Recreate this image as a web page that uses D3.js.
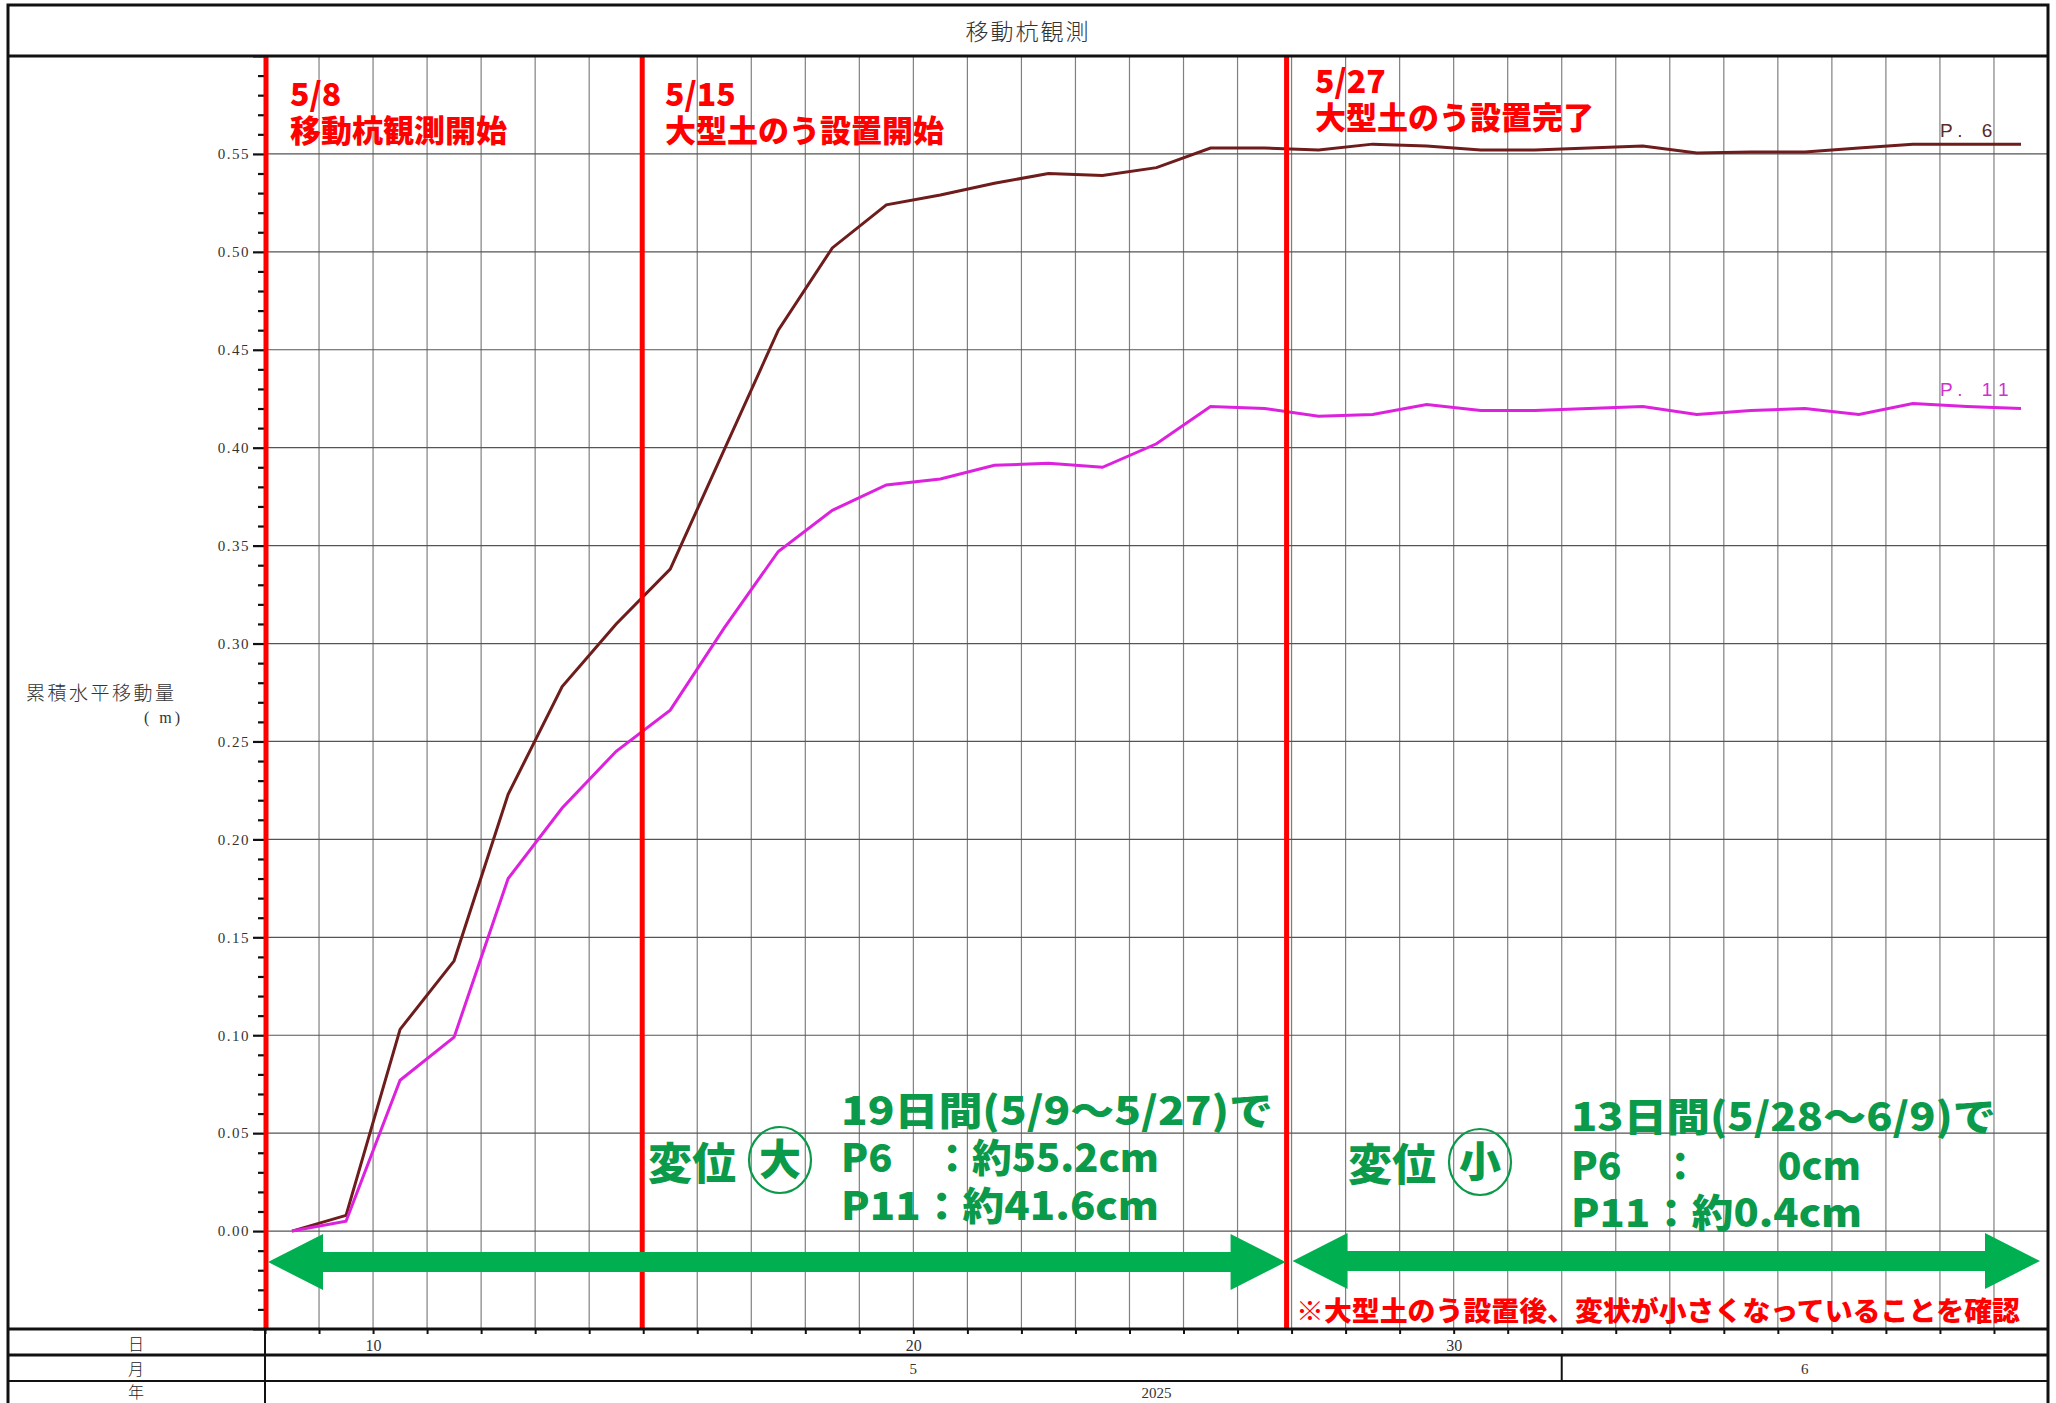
<!DOCTYPE html>
<html><head><meta charset="utf-8">
<script src="https://cdn.jsdelivr.net/npm/d3@7"></script>
<style>body{margin:0;background:#fff}svg{display:block}</style>
</head><body>
<svg id="c" width="2056" height="1403"></svg>
<script>
// ---- data ----
const dates = ["2025-05-08 12:00","2025-05-09 12:00","2025-05-10 12:00","2025-05-11 12:00","2025-05-12 12:00",
"2025-05-13 12:00","2025-05-14 12:00","2025-05-15 12:00","2025-05-16 12:00","2025-05-17 12:00","2025-05-18 12:00",
"2025-05-19 12:00","2025-05-20 12:00","2025-05-21 12:00","2025-05-22 12:00","2025-05-23 12:00","2025-05-24 12:00",
"2025-05-25 12:00","2025-05-26 12:00","2025-05-27 12:00","2025-05-28 12:00","2025-05-29 12:00","2025-05-30 12:00",
"2025-05-31 12:00","2025-06-01 12:00","2025-06-02 12:00","2025-06-03 12:00","2025-06-04 12:00","2025-06-05 12:00",
"2025-06-06 12:00","2025-06-07 12:00","2025-06-08 12:00","2025-06-09 12:00"];
const p6 = [0.000,0.008,0.103,0.138,0.223,0.278,0.310,0.338,0.399,0.460,0.502,
0.524,0.529,0.535,0.540,0.539,0.543,0.553,0.553,0.552,0.555,0.554,0.552,
0.552,0.553,0.554,0.5505,0.551,0.551,0.553,0.555,0.555,0.555];
const p11 = [0.000,0.005,0.077,0.099,0.180,0.216,0.245,0.266,0.308,0.347,0.368,
0.381,0.384,0.391,0.392,0.390,0.402,0.421,0.420,0.416,0.417,0.422,0.419,
0.419,0.420,0.421,0.417,0.419,0.420,0.417,0.4225,0.421,0.420];
const seriesNames = ["P. 6","P. 11"];
const yMajorTicks = [0,0.05,0.10,0.15,0.20,0.25,0.30,0.35,0.40,0.45,0.50,0.55];
const dayLabelDates = ["2025-05-10","2025-05-20","2025-05-30"];
const dayLabels = ["10","20","30"];
const monthStarts = ["2025-05-08","2025-06-01","2025-06-10"];
const monthLabels = ["5","6"];
const yearLabel = "2025";
const eventDates = ["2025-05-08","2025-05-15","2025-05-27"];
const eventDateTexts = ["5/8","5/15","5/27"];
const eventTexts = ["移動杭観測開始","大型土のう設置開始","大型土のう設置完了"];
const periodHeads = ["19日間(5/9～5/27)で","13日間(5/28～6/9)で"];
const periodP6 = ["P6　：約55.2cm","P6　：　　0cm"];
const periodP11 = ["P11：約41.6cm","P11：約0.4cm"];
const periodMark = ["大","小"];

// ---- layout ----
const L=265, R=2048, T=56, B=1329;
const svg = d3.select("#c");
const pd = d3.timeParse("%Y-%m-%d %H:%M");
const pday = d3.timeParse("%Y-%m-%d");
const x = d3.scaleTime().domain([pday("2025-05-08"), pday("2025-06-10")]).range([L,R]);
const y = d3.scaleLinear().domain([-0.05,0.6]).range([B,T]);
const serif = "'Liberation Serif','DejaVu Serif',serif";
const jp = "'Noto Sans CJK JP','Noto Sans',sans-serif";

// grid
const days = d3.timeDay.range(pday("2025-05-09"), pday("2025-06-10"));
svg.append("g").selectAll("line").data(days).join("line")
  .attr("x1",d=>x(d)).attr("x2",d=>x(d)).attr("y1",T).attr("y2",B)
  .attr("stroke","#808080").attr("stroke-width",1.2);
svg.append("g").selectAll("line").data(yMajorTicks).join("line")
  .attr("x1",L).attr("x2",R).attr("y1",d=>y(d)).attr("y2",d=>y(d))
  .attr("stroke","#555").attr("stroke-width",1.2);

// y axis minor + major
const minor = d3.range(-4,60).map(i=>i/100).filter(v=>Math.round(v*100)%5!==0);
const gMinor = svg.append("g").attr("transform",`translate(${L},0)`)
  .call(d3.axisLeft(y).tickValues(minor).tickSize(7).tickFormat(""));
gMinor.select(".domain").remove();
gMinor.selectAll("line").attr("stroke","#111").attr("stroke-width",2.2);
const gY = svg.append("g").attr("transform",`translate(${L},0)`)
  .call(d3.axisLeft(y).tickValues(yMajorTicks).tickSize(12).tickPadding(3).tickFormat(d3.format(".2f")));
gY.select(".domain").attr("stroke","#111").attr("stroke-width",2);
gY.selectAll("line").attr("stroke","#111").attr("stroke-width",2.2);
gY.selectAll("text").attr("font-family",serif).attr("font-size",15).attr("fill","#333").attr("letter-spacing",1.5);

// x axis
const labelMap = new Map(dayLabelDates.map((d,i)=>[+pday(d),dayLabels[i]]));
const gX = svg.append("g").attr("transform",`translate(0,${B})`)
  .call(d3.axisBottom(x).tickValues(d3.timeDay.range(pday("2025-05-08"), pday("2025-06-10"))).tickSize(5).tickPadding(6)
  .tickFormat(d=>labelMap.get(+d)||""));
gX.select(".domain").remove();
gX.selectAll("line").attr("stroke","#111").attr("stroke-width",2);
gX.selectAll("text").attr("font-family",serif).attr("font-size",16).attr("fill","#333");

// series lines
const line = d3.line().x((d,i)=>x(pd(dates[i]))).y(d=>y(d));
svg.append("path").datum(p6).attr("d",line).attr("fill","none").attr("stroke","#6e1c1c").attr("stroke-width",3);
svg.append("path").datum(p11).attr("d",line).attr("fill","none").attr("stroke","#dd22dd").attr("stroke-width",3);
svg.append("text").attr("x",1940).attr("y",137).text(seriesNames[0])
  .attr("font-family","'Liberation Sans',Arial,sans-serif").attr("font-size",19).attr("letter-spacing",7).attr("fill","#5a2a2a");
svg.append("text").attr("x",1940).attr("y",396).text(seriesNames[1])
  .attr("font-family","'Liberation Sans',Arial,sans-serif").attr("font-size",19).attr("letter-spacing",7).attr("fill","#d030d0");

// event lines (small pixel nudges to match the hand-placed lines)
const eventNudge = [1,-1,-5];
svg.append("g").selectAll("line").data(eventDates).join("line")
  .attr("x1",(d,i)=>x(pday(d))+eventNudge[i]).attr("x2",(d,i)=>x(pday(d))+eventNudge[i]).attr("y1",T).attr("y2",B)
  .attr("stroke","#ff0000").attr("stroke-width",5);
const evY = [[106,142],[106,142],[93,129]];
const evX = [290,665,1315];
eventDates.forEach((d,i)=>{
  svg.append("text").attr("x",evX[i]).attr("y",evY[i][0]).text(eventDateTexts[i])
    .attr("font-family",jp).attr("font-weight",900).attr("font-size",32).attr("fill","#ff0000");
  svg.append("text").attr("x",evX[i]).attr("y",evY[i][1]).text(eventTexts[i])
    .attr("font-family",jp).attr("font-weight",900).attr("font-size",31).attr("fill","#ff0000");
});

// green arrows
function dblArrow(x1,x2,cy){
  const h=55, hw=28, sw=10;
  return `M${x1},${cy} L${x1+h},${cy-hw} L${x1+h},${cy-sw} L${x2-h},${cy-sw} L${x2-h},${cy-hw} L${x2},${cy} L${x2-h},${cy+hw} L${x2-h},${cy+sw} L${x1+h},${cy+sw} L${x1+h},${cy+hw} Z`;
}
svg.append("path").attr("d",dblArrow(x(pday(eventDates[0]))+3, x(pday(eventDates[2]))-6, 1262)).attr("fill","#00b050");
svg.append("path").attr("d",dblArrow(x(pday(eventDates[2]))+1, R-8, 1261)).attr("fill","#00b050");

// green annotations
const green = "#0a9a4a";
const blocks = [
  {tx:841, base:[1125,1172,1220], w:[432,318,318], vx:648, vy:1180, cx:780, cy:1160},
  {tx:1571, base:[1131,1180,1227], w:[425,290,291], vx:1348, vy:1181, cx:1480, cy:1162}
];
blocks.forEach((b,i)=>{
  [periodHeads[i],periodP6[i],periodP11[i]].forEach((t,j)=>{
    svg.append("text").attr("x",b.tx).attr("y",b.base[j]).text(t)
      .attr("font-family",jp).attr("font-weight",900).attr("font-size",39).attr("fill",green)
      .attr("textLength",b.w[j]).attr("lengthAdjust","spacingAndGlyphs");
  });
  svg.append("text").attr("x",b.vx).attr("y",b.vy).text("変位")
    .attr("font-family",jp).attr("font-weight",900).attr("font-size",44).attr("fill",green);
  svg.append("ellipse").attr("cx",b.cx).attr("cy",b.cy).attr("rx",31).attr("ry",33)
    .attr("fill","none").attr("stroke",green).attr("stroke-width",2.2);
  svg.append("text").attr("x",b.cx).attr("y",b.cy+15).attr("text-anchor","middle").text(periodMark[i])
    .attr("font-family",jp).attr("font-weight",900).attr("font-size",42).attr("fill",green);
});
svg.append("text").attr("x",1296).attr("y",1321).text("※大型土のう設置後、変状が小さくなっていることを確認")
  .attr("font-family",jp).attr("font-weight",900).attr("font-size",27).attr("fill","#ff0000")
  .attr("textLength",724).attr("lengthAdjust","spacingAndGlyphs");

// frame and table
const fr = svg.append("g").attr("stroke","#111").attr("fill","none");
fr.append("rect").attr("x",8).attr("y",5).attr("width",R-8).attr("height",1420).attr("stroke-width",3);
fr.append("line").attr("x1",8).attr("x2",R).attr("y1",T).attr("y2",T).attr("stroke-width",3);
fr.append("line").attr("x1",8).attr("x2",R).attr("y1",B).attr("y2",B).attr("stroke-width",3);
fr.append("line").attr("x1",8).attr("x2",R).attr("y1",1355).attr("y2",1355).attr("stroke-width",3);
fr.append("line").attr("x1",8).attr("x2",R).attr("y1",1381).attr("y2",1381).attr("stroke-width",2);
fr.append("line").attr("x1",L).attr("x2",L).attr("y1",B).attr("y2",1403).attr("stroke-width",2);
fr.append("line").attr("x1",x(pday(monthStarts[1]))).attr("x2",x(pday(monthStarts[1]))).attr("y1",1355).attr("y2",1381).attr("stroke-width",2);

// month / year labels
monthLabels.forEach((m,i)=>{
  const cx=(x(pday(monthStarts[i]))+x(pday(monthStarts[i+1])))/2;
  svg.append("text").attr("x",cx).attr("y",1374).attr("text-anchor","middle").text(m)
    .attr("font-family",serif).attr("font-size",15).attr("fill","#333");
});
svg.append("text").attr("x",(L+R)/2).attr("y",1398).attr("text-anchor","middle").text(yearLabel)
  .attr("font-family",serif).attr("font-size",15).attr("fill","#333");
[["日",1350],["月",1375],["年",1398]].forEach(([t,yy])=>{
  svg.append("text").attr("x",136).attr("y",yy).attr("text-anchor","middle").text(t)
    .attr("font-family",jp).attr("font-size",16).attr("font-weight",300).attr("fill","#222");
});

// title and y label
svg.append("text").attr("x",1028).attr("y",40).attr("text-anchor","middle").text("移動杭観測")
  .attr("font-family",jp).attr("font-weight",300).attr("font-size",23).attr("letter-spacing",2).attr("fill","#333");
svg.append("text").attr("x",26).attr("y",700).text("累積水平移動量")
  .attr("font-family",jp).attr("font-weight",300).attr("font-size",19).attr("letter-spacing",2.5).attr("fill","#333");
svg.append("text").attr("x",144).attr("y",723).text("( m)")
  .attr("font-family",serif).attr("font-size",16).attr("letter-spacing",3).attr("fill","#333");
</script>
</body></html>
